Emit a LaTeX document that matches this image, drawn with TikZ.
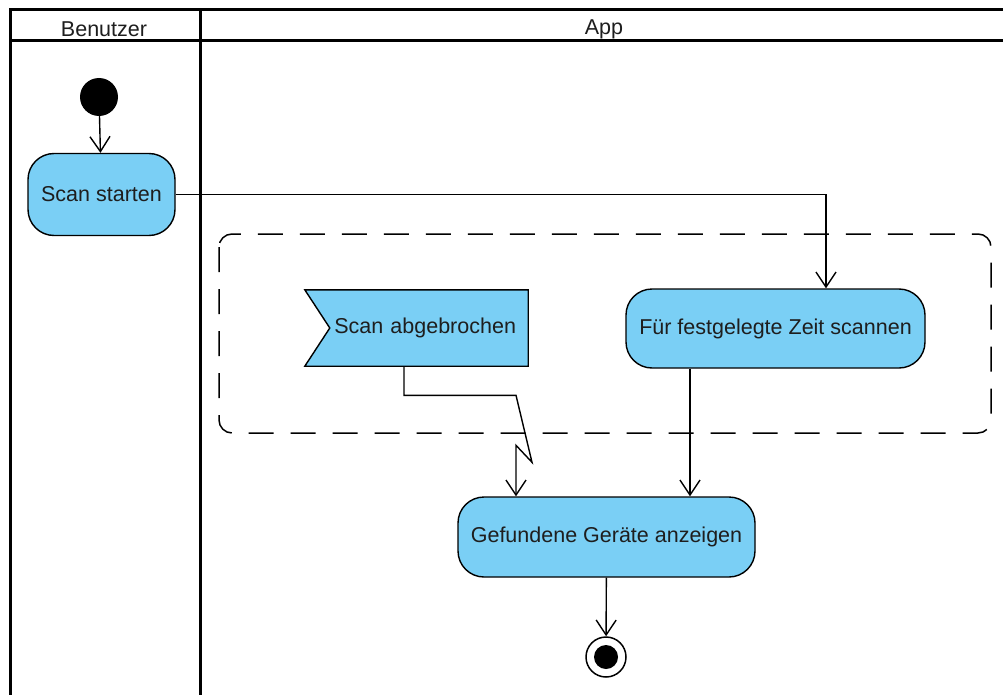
\documentclass[tikz,border=0pt]{standalone}
\usepackage{fontspec}
\setmainfont{Liberation Sans}
\usetikzlibrary{arrows.meta,calc,backgrounds}
\definecolor{actfill}{RGB}{122,207,245}
\definecolor{txt}{RGB}{30,30,30}
\begin{document}
\begin{tikzpicture}[x=1pt,y=-1pt,
  lbl/.style={font=\fontsize{21.5}{25}\selectfont, text=txt},
  action/.style={lbl, draw=black, fill=actfill, line width=1.4pt,
    rounded corners=26pt, inner sep=0pt},
  flow/.style={line width=1.4pt, -{Straight Barb[length=15pt,width=20pt,line width=1.4pt]}},
  lane/.style={line width=3pt},
  region/.style={line width=1.5pt, dash pattern=on 25pt off 17pt, rounded corners=13pt}]
\useasboundingbox (0,0) rectangle (1003,695);
\begin{scope}[on background layer]
  \fill[white] (0,0) rectangle (1003,695);
\end{scope}

% swimlane frame
\draw[lane] (1003,10) -- (10,10) -- (10,695);
\draw[lane] (10,41) -- (1003,41);
\draw[lane] (200,10) -- (200,695);
\node[lbl] (hbenutzer) at (104,29.5) {Benutzer};
\node[lbl] (happ) at (604,29.5) {App};

% interruptible region
\draw[region] (219,234) rectangle (991,433);

% nodes
\node[circle, fill=black, minimum size=38pt, inner sep=0pt] (start) at (99,97) {};
\node[action, minimum width=147pt, minimum height=82pt] (scan) at (101.5,194.5) {Scan starten};
\node[lbl, minimum width=223pt, minimum height=76pt, inner sep=0pt,
      text width=199pt, align=right] (abg) at (416.5,328) {Scan abgebrochen};
\node[action, minimum width=299pt, minimum height=79pt] (fuer) at (775.5,328.5) {Für festgelegte Zeit scannen};
\node[action, minimum width=297pt, minimum height=80pt] (gef) at (606.5,537) {Gefundene Geräte anzeigen};
\node[circle, draw=black, line width=1.5pt, fill=white, minimum size=40pt, inner sep=0pt] (end) at (606,657) {};
\fill[black] (end.center) circle (12pt);

% accept event signal shape, behind its label
\begin{scope}[on background layer]
  \draw[fill=actfill, line width=1.4pt] (abg.north west) -- (abg.north east) -- (abg.south east)
    -- (abg.south west) -- ($(abg.west)+(25,0)$) -- cycle;
\end{scope}

% flows
\draw[flow] (start) -- (scan);
\draw[flow] (scan.east) -| ($(fuer.north)+(50.5,0)$);
\draw[flow] ($(abg.south)+(-12.5,0)$) |- ($(gef.north)+(-90.5,-101)$)
  -- ($(gef.north)+(-74.5,-34)$) -- ($(gef.north)+(-90.5,-51)$) -- ($(gef.north)+(-90.5,0)$);
\draw[flow] ($(fuer.south)+(-85.5,0)$) -- ($(gef.north)+(83.5,0)$);
\draw[flow] (gef) -- (end);
\end{tikzpicture}
\end{document}
